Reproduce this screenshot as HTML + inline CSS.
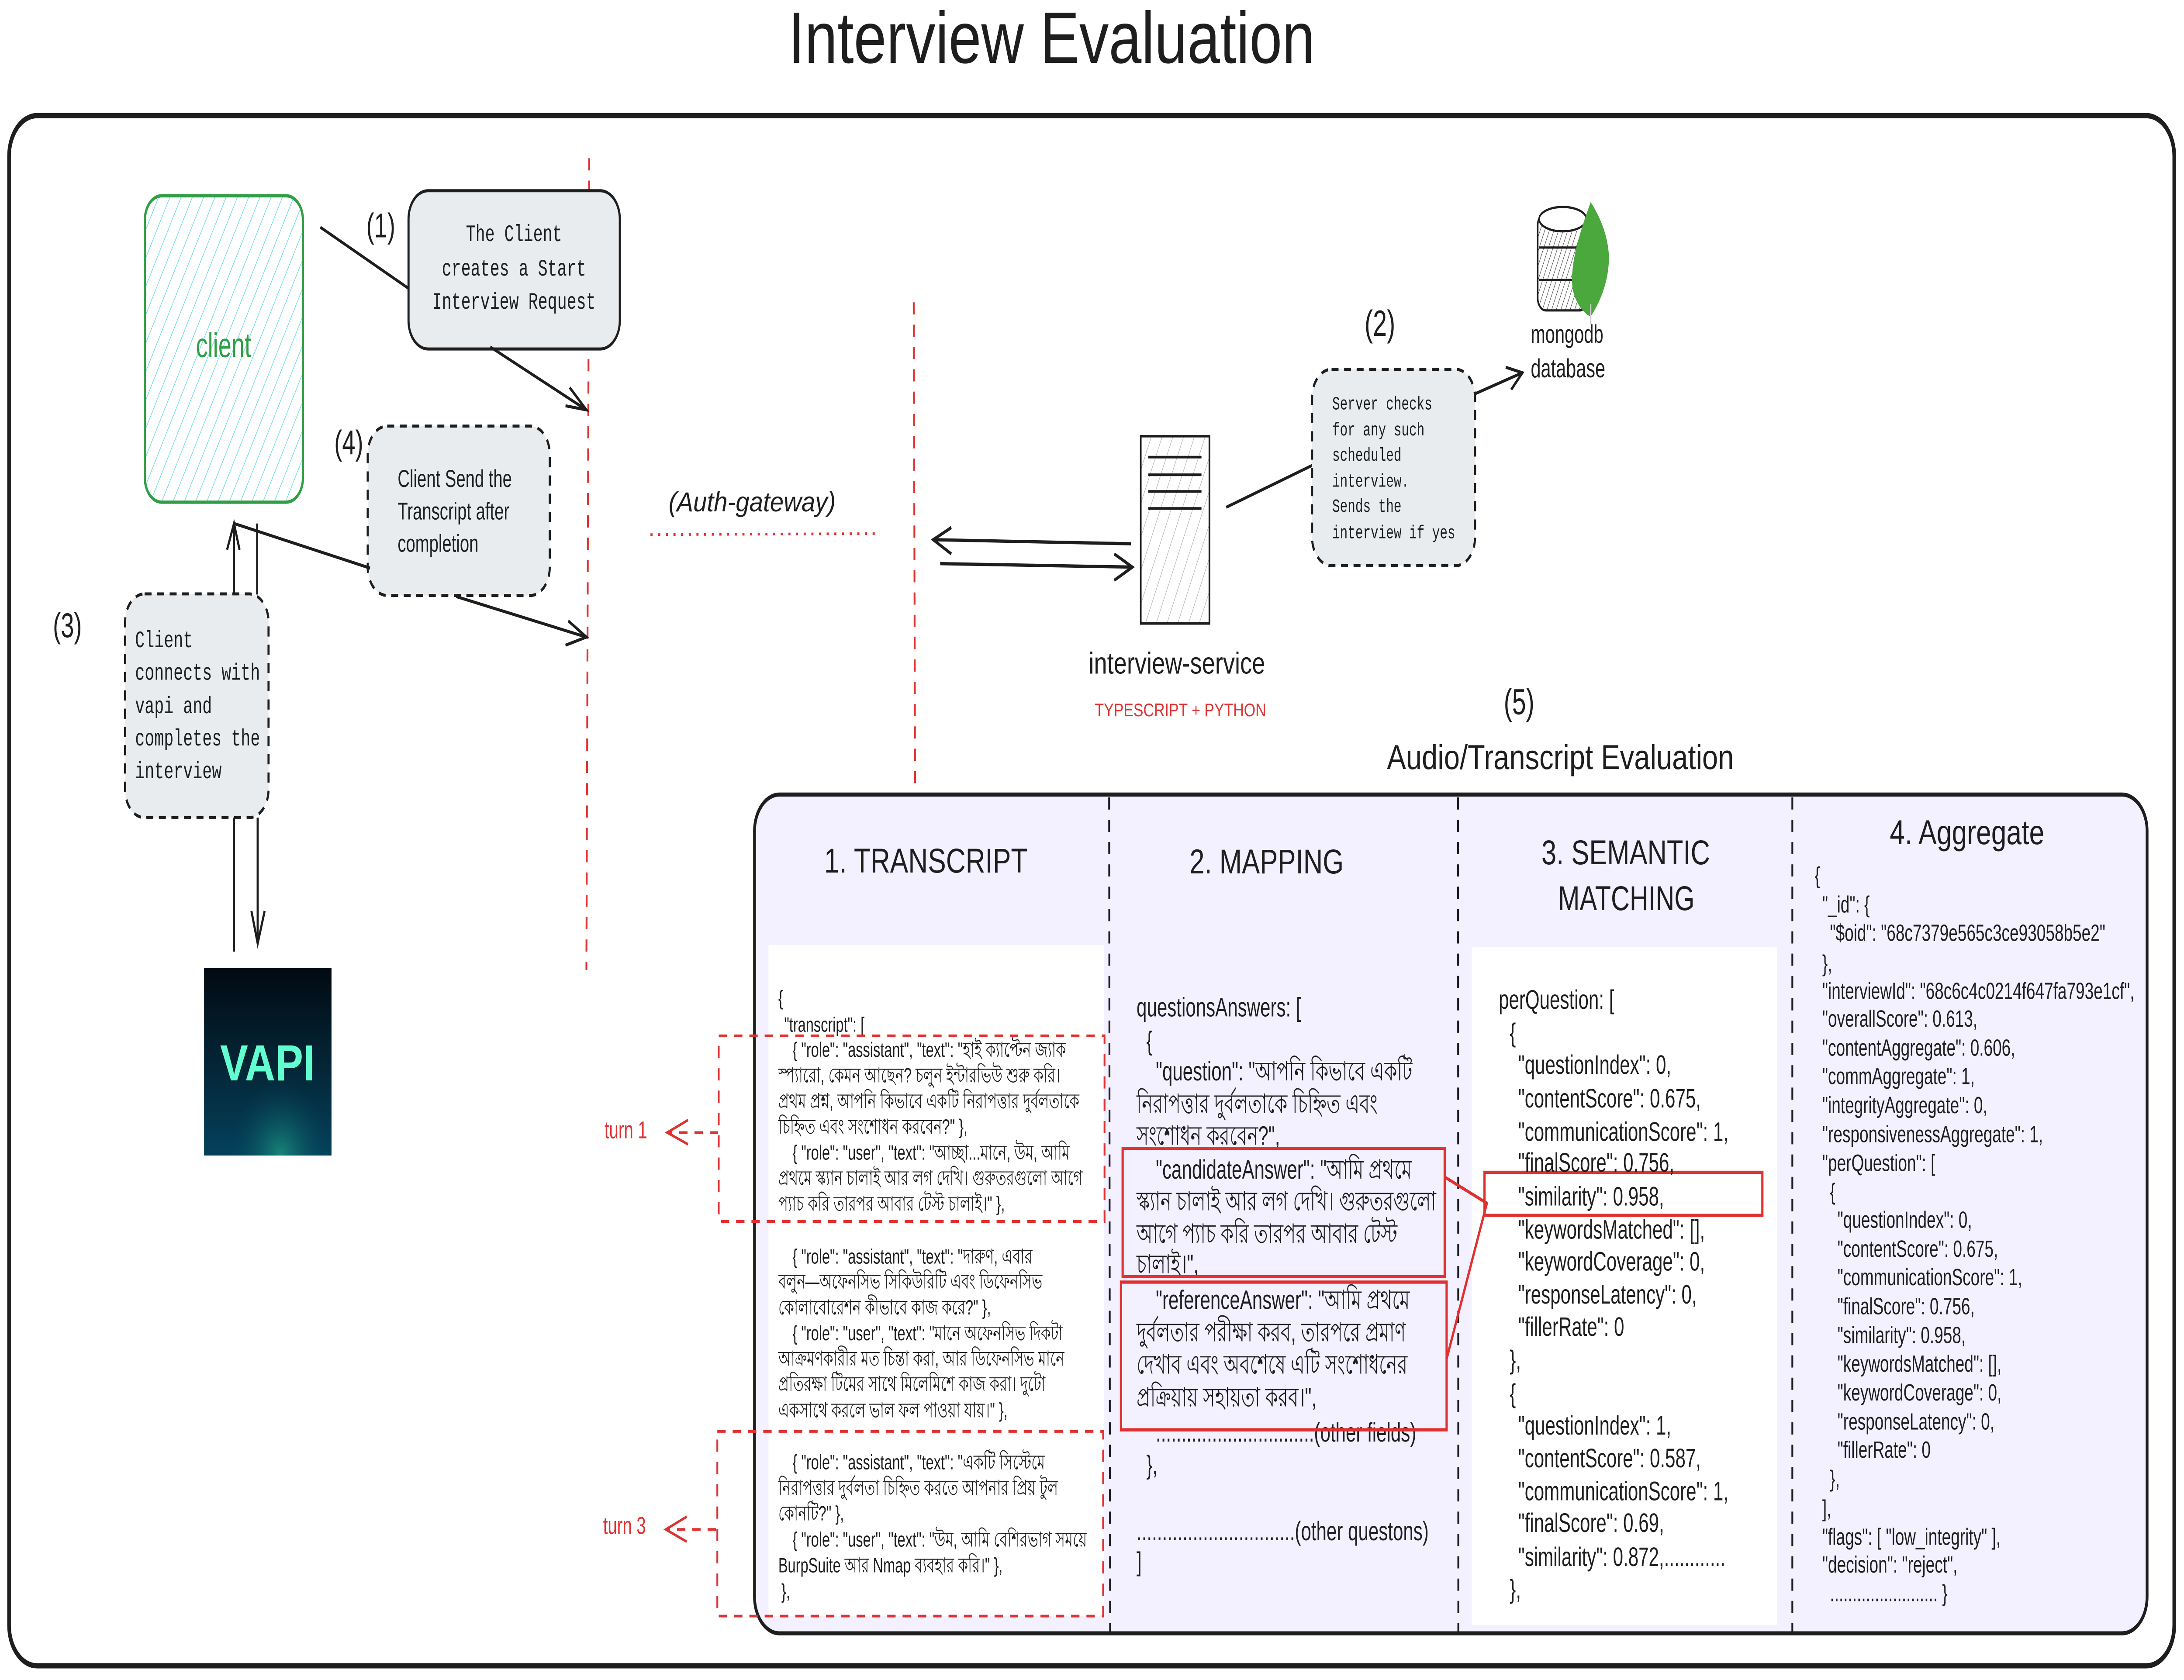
<!DOCTYPE html>
<html><head><meta charset="utf-8">
<style>
html,body{margin:0;padding:0;background:#fff;width:100%;height:100%;overflow:hidden;}
svg{display:block;position:absolute;left:0;top:0;width:100vw;height:100vh;}
.code{font-family:"Liberation Sans Narrow","Liberation Sans",sans-serif;fill:#1e1e1e;}
.mono{font-family:"Liberation Mono",monospace;fill:#1e1e1e;}
.hand{font-family:"Liberation Sans",sans-serif;fill:#1e1e1e;}
</style></head>
<body>
<svg viewBox="0 0 1568 828" preserveAspectRatio="none" xmlns="http://www.w3.org/2000/svg">
<defs>
<pattern id="hc" width="7" height="7" patternUnits="userSpaceOnUse" patternTransform="rotate(30)">
<line x1="0" y1="0" x2="0" y2="7" stroke="#66d9e8" stroke-width="0.8"/></pattern>
<pattern id="hs" width="7" height="7" patternUnits="userSpaceOnUse" patternTransform="rotate(25)">
<line x1="0" y1="0" x2="0" y2="7" stroke="#aaa" stroke-width="0.6"/></pattern>
<pattern id="hm" width="3" height="3" patternUnits="userSpaceOnUse" patternTransform="rotate(25)">
<line x1="0" y1="0" x2="0" y2="3" stroke="#222" stroke-width="0.5"/></pattern>
<linearGradient id="vg" x1="0" y1="0" x2="0" y2="1">
<stop offset="0" stop-color="#020a12"/><stop offset="0.6" stop-color="#042a3c"/><stop offset="1" stop-color="#04415c"/></linearGradient>
<radialGradient id="vr" cx="0.6" cy="1" r="0.4"><stop offset="0" stop-color="#1a8f7a" stop-opacity="0.9"/><stop offset="1" stop-color="#04415c" stop-opacity="0"/></radialGradient>
</defs>

<text class="hand" x="566" y="31" font-size="36" textLength="378" lengthAdjust="spacingAndGlyphs">Interview Evaluation</text>

<rect x="6.5" y="57" width="1554.5" height="764" rx="20" fill="none" stroke="#1e1e1e" stroke-width="2.6"/>

<line x1="423" y1="78" x2="421" y2="478" stroke="#e03131" stroke-width="1.3" stroke-dasharray="6,5"/>
<line x1="656" y1="149" x2="657" y2="390" stroke="#e03131" stroke-width="1.3" stroke-dasharray="6,5"/>
<line x1="467" y1="263.5" x2="628" y2="263" stroke="#e03131" stroke-width="1.3" stroke-dasharray="1.5,4"/>
<text class="hand" x="480" y="252" font-size="13.5" textLength="120" lengthAdjust="spacingAndGlyphs" font-style="italic">(Auth-gateway)</text>

<rect x="104" y="96.5" width="113.5" height="151" rx="12" fill="url(#hc)" stroke="#2f9e44" stroke-width="1.6"/>
<text x="160.5" y="176" font-size="17" text-anchor="middle" fill="#2f9e44" font-family="Liberation Sans,sans-serif">client</text>

<rect x="293.3" y="94" width="151.7" height="78" rx="14" fill="#e9ecef" stroke="#1e1e1e" stroke-width="1.5"/>
<g class="mono" font-size="11.5" text-anchor="middle">
<text x="369" y="118.8">The Client</text>
<text x="369" y="135.8">creates a Start</text>
<text x="369" y="152.2">Interview Request</text></g>
<text class="hand" x="263" y="117" font-size="17">(1)</text>
<line x1="230" y1="112" x2="293" y2="142" stroke="#1e1e1e" stroke-width="1.5"/>
<line x1="352" y1="171" x2="421" y2="202" stroke="#1e1e1e" stroke-width="1.5"/>
<polyline points="409,191 421,202 406,200" fill="none" stroke="#1e1e1e" stroke-width="1.5"/>

<rect x="264" y="210" width="130.7" height="83.5" rx="14" fill="#e9ecef" stroke="#1e1e1e" stroke-width="1.5" stroke-dasharray="5,4"/>
<g font-family="Liberation Sans,sans-serif" font-size="12" fill="#1e1e1e">
<text x="285.5" y="240">Client Send the</text>
<text x="285.5" y="256">Transcript after</text>
<text x="285.5" y="272">completion</text></g>
<text class="hand" x="240" y="224" font-size="17">(4)</text>
<line x1="168" y1="258" x2="265.7" y2="280" stroke="#1e1e1e" stroke-width="1.5"/>
<line x1="327.5" y1="294" x2="421" y2="314" stroke="#1e1e1e" stroke-width="1.5"/>
<polyline points="408,306 421,314 406,318" fill="none" stroke="#1e1e1e" stroke-width="1.5"/>

<rect x="89.8" y="292.7" width="103" height="110.3" rx="14" fill="#e9ecef" stroke="#1e1e1e" stroke-width="1.5" stroke-dasharray="5,4"/>
<g class="mono" font-size="11.5">
<text x="97" y="319">Client</text>
<text x="97" y="335">connects with</text>
<text x="97" y="351.5">vapi and</text>
<text x="97" y="367.4">completes the</text>
<text x="97" y="383.6">interview</text></g>
<text class="hand" x="38" y="314" font-size="17">(3)</text>

<line x1="168" y1="258" x2="168" y2="292.7" stroke="#1e1e1e" stroke-width="1.5"/>
<polyline points="163,271 168,258 172,271" fill="none" stroke="#1e1e1e" stroke-width="1.5"/>
<line x1="184.6" y1="258" x2="184.6" y2="293" stroke="#1e1e1e" stroke-width="1.5"/>
<line x1="168" y1="403" x2="168" y2="469" stroke="#1e1e1e" stroke-width="1.5"/>
<line x1="185" y1="403" x2="185" y2="465" stroke="#1e1e1e" stroke-width="1.5"/>
<polyline points="180.5,449 185,465 190,449" fill="none" stroke="#1e1e1e" stroke-width="1.5"/>

<rect x="146.5" y="477" width="91.5" height="92.5" fill="url(#vg)"/>
<rect x="146.5" y="477" width="91.5" height="92.5" fill="url(#vr)"/>
<text x="192" y="532.5" font-size="25" font-weight="bold" text-anchor="middle" fill="#62ffd0" font-family="Liberation Sans,sans-serif" textLength="68" lengthAdjust="spacingAndGlyphs">VAPI</text>

<rect x="819" y="215" width="49.3" height="92.3" fill="url(#hs)" stroke="#1e1e1e" stroke-width="1.2"/>
<g stroke="#1e1e1e" stroke-width="1.3">
<line x1="824.4" y1="225.3" x2="862.6" y2="225.3"/><line x1="824.4" y1="234" x2="862.6" y2="234"/>
<line x1="824.4" y1="242.2" x2="862.6" y2="242.2"/><line x1="824.4" y1="250.6" x2="862.6" y2="250.6"/></g>
<text class="hand" x="781.6" y="332" font-size="15" textLength="126.7" lengthAdjust="spacingAndGlyphs">interview-service</text>
<text x="786" y="353" font-size="9" fill="#e03131" font-family="Liberation Sans,sans-serif" textLength="123" lengthAdjust="spacingAndGlyphs">TYPESCRIPT + PYTHON</text>
<line x1="812" y1="268" x2="670" y2="266" stroke="#1e1e1e" stroke-width="1.6"/>
<polyline points="683,260 670,266 683,273" fill="none" stroke="#1e1e1e" stroke-width="1.6"/>
<line x1="675" y1="277.8" x2="813" y2="279.5" stroke="#1e1e1e" stroke-width="1.6"/>
<polyline points="800,273 813,279.5 800,286" fill="none" stroke="#1e1e1e" stroke-width="1.6"/>
<line x1="880.4" y1="250" x2="942" y2="229.4" stroke="#1e1e1e" stroke-width="1.5"/>

<rect x="942" y="182" width="117" height="96.8" rx="14" fill="#e9ecef" stroke="#1e1e1e" stroke-width="1.5" stroke-dasharray="5,4"/>
<g class="mono" font-size="9.2">
<text x="956.5" y="201.8">Server checks</text>
<text x="956.5" y="214.6">for any such</text>
<text x="956.5" y="227.1">scheduled</text>
<text x="956.5" y="239.9">interview.</text>
<text x="956.5" y="252.3">Sends the</text>
<text x="956.5" y="265.3">interview if yes</text></g>
<text class="hand" x="979.7" y="165.5" font-size="18">(2)</text>
<line x1="1059.3" y1="194" x2="1093" y2="183.7" stroke="#1e1e1e" stroke-width="1.5"/>
<polyline points="1081,181 1093,183.7 1085,192" fill="none" stroke="#1e1e1e" stroke-width="1.5"/>

<g stroke="#1e1e1e" stroke-width="1.1">
<rect x="1104" y="105" width="36" height="48" rx="6" fill="url(#hm)"/>
<ellipse cx="1122" cy="108" rx="17" ry="6" fill="#fff"/>
<line x1="1105" y1="122" x2="1140" y2="122"/><line x1="1105" y1="138" x2="1140" y2="138"/></g>
<path d="M1142,99.6 C1134,115 1127,130 1129,142 C1131,150 1138,155 1142,156 C1148,150 1156,138 1155,125 C1154,115 1148,106 1142,99.6Z" fill="#4aa83c"/>
<line x1="1142" y1="150" x2="1142" y2="160" stroke="#ccc" stroke-width="1"/>
<text class="hand" x="1099" y="169" font-size="12.5">mongodb</text>
<text class="hand" x="1099" y="186" font-size="13">database</text>

<text class="hand" x="1079.6" y="352" font-size="18">(5)</text>
<text class="hand" x="995.8" y="379" font-size="17" textLength="249" lengthAdjust="spacingAndGlyphs">Audio/Transcript Evaluation</text>

<rect x="541.7" y="391.6" width="999.8" height="413.4" rx="18" fill="#f3f0ff" stroke="#1e1e1e" stroke-width="2"/>
<rect x="551.7" y="465.8" width="241" height="330.8" fill="#fff"/>
<rect x="1056.6" y="466.6" width="219.4" height="334.2" fill="#fff"/>
<g stroke="#1e1e1e" stroke-width="1.3" stroke-dasharray="6,5">
<line x1="796.3" y1="393" x2="797" y2="804"/>
<line x1="1046.8" y1="393" x2="1047" y2="804"/>
<line x1="1286.8" y1="393" x2="1286.8" y2="804"/></g>
<g class="hand" font-size="17">
<text x="591.7" y="430" textLength="146" lengthAdjust="spacingAndGlyphs">1. TRANSCRIPT</text>
<text x="854" y="430.5" textLength="110.7" lengthAdjust="spacingAndGlyphs">2. MAPPING</text>
<text x="1106.7" y="426" textLength="121" lengthAdjust="spacingAndGlyphs">3. SEMANTIC</text>
<text x="1118.6" y="448.5" textLength="98" lengthAdjust="spacingAndGlyphs">MATCHING</text>
<text x="1356.7" y="416" textLength="111" lengthAdjust="spacingAndGlyphs">4. Aggregate</text></g>

<g class="code" font-size="10.2" xml:space="preserve">
<text x="558.8" y="495.4">{</text>
<text x="563" y="508.5">"transcript": [</text>
<text x="569" y="520.9">{ "role": "assistant", "text": "হাই ক্যাপ্টেন জ্যাক</text>
<text x="558.8" y="533.5">স্প্যারো, কেমন আছেন? চলুন ইন্টারভিউ শুরু করি।</text>
<text x="558.8" y="546.1">প্রথম প্রশ্ন, আপনি কিভাবে একটি নিরাপত্তার দুর্বলতাকে</text>
<text x="558.8" y="558.8">চিহ্নিত এবং সংশোধন করবেন?" },</text>
<text x="569" y="571.5">{ "role": "user", "text": "আচ্ছা...মানে, উম, আমি</text>
<text x="558.8" y="584">প্রথমে স্ক্যান চালাই আর লগ দেখি। গুরুতরগুলো আগে</text>
<text x="558.8" y="596.7">প্যাচ করি তারপর আবার টেস্ট চালাই।" },</text>
<text x="569" y="622.8">{ "role": "assistant", "text": "দারুণ, এবার</text>
<text x="558.8" y="635.1">বলুন—অফেনসিভ সিকিউরিটি এবং ডিফেনসিভ</text>
<text x="558.8" y="647.8">কোলাবোরেশন কীভাবে কাজ করে?" },</text>
<text x="569" y="660.5">{ "role": "user", "text": "মানে অফেনসিভ দিকটা</text>
<text x="558.8" y="673">আক্রমণকারীর মত চিন্তা করা, আর ডিফেনসিভ মানে</text>
<text x="558.8" y="685.5">প্রতিরক্ষা টিমের সাথে মিলেমিশে কাজ করা। দুটো</text>
<text x="558.8" y="698.5">একসাথে করলে ভাল ফল পাওয়া যায়।" },</text>
<text x="569" y="724.1">{ "role": "assistant", "text": "একটি সিস্টেমে</text>
<text x="558.8" y="736.7">নিরাপত্তার দুর্বলতা চিহ্নিত করতে আপনার প্রিয় টুল</text>
<text x="558.8" y="749.3">কোনটি?" },</text>
<text x="569" y="762.3">{ "role": "user", "text": "উম, আমি বেশিরভাগ সময়ে</text>
<text x="558.8" y="774.9">BurpSuite আর Nmap ব্যবহার করি।" },</text>
<text x="561" y="787.8">},</text>
</g>

<g fill="none" stroke="#e03131" stroke-width="1.3" stroke-dasharray="6,5">
<rect x="516" y="510.5" width="277" height="91.5"/>
<rect x="515" y="705.5" width="277" height="91"/>
<line x1="515.6" y1="558.2" x2="480" y2="558.2"/>
<line x1="514" y1="753.8" x2="479" y2="753.8"/></g>
<g fill="none" stroke="#e03131" stroke-width="1.3">
<polyline points="494,552 479,558.2 494,564"/>
<polyline points="493,747.5 478,753.8 493,759.8"/></g>
<text x="434" y="561" font-size="12" fill="#e03131" font-family="Liberation Sans,sans-serif">turn 1</text>
<text x="433" y="756" font-size="12" fill="#e03131" font-family="Liberation Sans,sans-serif">turn 3</text>

<g class="code" font-size="13.2">
<text x="816" y="501">questionsAnswers: [</text>
<text x="823" y="517.5">{</text>
<text x="829.8" y="532.5">"question": "আপনি কিভাবে একটি</text>
<text x="816" y="548.5">নিরাপত্তার দুর্বলতাকে চিহ্নিত এবং</text>
<text x="816" y="564.2">সংশোধন করবেন?",</text>
<text x="829.8" y="580.9">"candidateAnswer": "আমি প্রথমে</text>
<text x="816" y="596.5">স্ক্যান চালাই আর লগ দেখি। গুরুতরগুলো</text>
<text x="816" y="612.5">আগে প্যাচ করি তারপর আবার টেস্ট</text>
<text x="816" y="627.5">চালাই।",</text>
<text x="829.8" y="645.2">"referenceAnswer": "আমি প্রথমে</text>
<text x="816" y="661.1">দুর্বলতার পরীক্ষা করব, তারপরে প্রমাণ</text>
<text x="816" y="677">দেখাব এবং অবশেষে এটি সংশোধনের</text>
<text x="816" y="693.2">প্রক্রিয়ায় সহায়তা করব।",</text>
<text x="829.8" y="710.5">...............................(other fields)</text>
<text x="823" y="726.5">},</text>
<text x="816" y="759.1">...............................(other questons)</text>
<text x="816" y="774.2">]</text>
</g>
<g fill="none" stroke="#e03131" stroke-width="1.6">
<rect x="806" y="566" width="231.2" height="63.2"/>
<rect x="804.8" y="631.9" width="233.8" height="72.8"/>
<rect x="1065.8" y="577.8" width="199.5" height="21.2"/>
<polyline points="1037,580 1067.5,593 1038.5,670"/></g>

<g class="code" font-size="13.2">
<text x="1076" y="497.2">perQuestion: [</text>
<text x="1083.9" y="513.5">{</text>
<text x="1090" y="529.3">"questionIndex": 0,</text>
<text x="1090" y="545.8">"contentScore": 0.675,</text>
<text x="1090" y="562.3">"communicationScore": 1,</text>
<text x="1090" y="577.5">"finalScore": 0.756,</text>
<text x="1090" y="594.1">"similarity": 0.958,</text>
<text x="1090" y="610.5">"keywordsMatched": [],</text>
<text x="1090" y="626.2">"keywordCoverage": 0,</text>
<text x="1090" y="642.5">"responseLatency": 0,</text>
<text x="1090" y="658.4">"fillerRate": 0</text>
<text x="1083.9" y="674.8">},</text>
<text x="1083.9" y="691.3">{</text>
<text x="1090" y="707">"questionIndex": 1,</text>
<text x="1090" y="723.2">"contentScore": 0.587,</text>
<text x="1090" y="739.4">"communicationScore": 1,</text>
<text x="1090" y="755">"finalScore": 0.69,</text>
<text x="1090" y="771.8">"similarity": 0.872,............</text>
<text x="1083.9" y="787.7">},</text>
</g>

<g class="code" font-size="11.6">
<text x="1302.8" y="435.4">{</text>
<text x="1308.3" y="449.7">"_id": {</text>
<text x="1313.8" y="463.7">"$oid": "68c7379e565c3ce93058b5e2"</text>
<text x="1308.3" y="478.8">},</text>
<text x="1308.3" y="492.3">"interviewId": "68c6c4c0214f647fa793e1cf",</text>
<text x="1308.3" y="506">"overallScore": 0.613,</text>
<text x="1308.3" y="520.3">"contentAggregate": 0.606,</text>
<text x="1308.3" y="534.3">"commAggregate": 1,</text>
<text x="1308.3" y="548.6">"integrityAggregate": 0,</text>
<text x="1308.3" y="562.9">"responsivenessAggregate": 1,</text>
<text x="1308.3" y="577.1">"perQuestion": [</text>
<text x="1313.8" y="591.4">{</text>
<text x="1319.2" y="605.1">"questionIndex": 0,</text>
<text x="1319.2" y="619.4">"contentScore": 0.675,</text>
<text x="1319.2" y="633.4">"communicationScore": 1,</text>
<text x="1319.2" y="647.7">"finalScore": 0.756,</text>
<text x="1319.2" y="662">"similarity": 0.958,</text>
<text x="1319.2" y="676">"keywordsMatched": [],</text>
<text x="1319.2" y="690.3">"keywordCoverage": 0,</text>
<text x="1319.2" y="704.6">"responseLatency": 0,</text>
<text x="1319.2" y="718.5">"fillerRate": 0</text>
<text x="1313.8" y="732.8">},</text>
<text x="1308.3" y="747.4">],</text>
<text x="1308.3" y="761.4">"flags": [ "low_integrity" ],</text>
<text x="1308.3" y="775.1">"decision": "reject",</text>
<text x="1313.8" y="789.1">........................ }</text>
</g>
</svg>
</body></html>
